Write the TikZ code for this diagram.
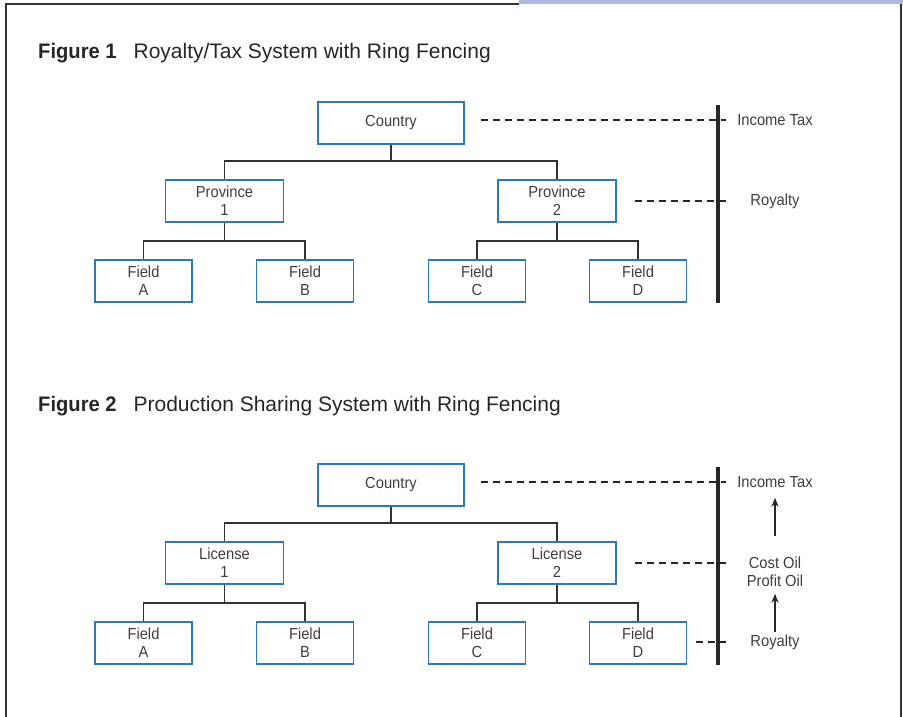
\documentclass[tikz,border=0pt]{standalone}
\usepackage{fontspec}
\setmainfont{Liberation Sans}[FakeStretch=0.92]
\newfontfamily\capfont{Liberation Sans}[BoldFeatures={FakeStretch=0.96}]
\usetikzlibrary{arrows.meta}
\definecolor{boxblue}{RGB}{48,118,188}
\definecolor{barblue}{RGB}{172,182,222}
\definecolor{inkgray}{RGB}{62,62,62}
\begin{document}
\begin{tikzpicture}[x=1pt,y=-1pt,
    unitbox/.style={draw=boxblue, line width=1.3pt, minimum height=42pt, inner sep=0pt,
      align=center, text=inkgray, font=\fontsize{16}{18.3}\selectfont},
    fieldbox/.style={unitbox, minimum width=97pt},
    link/.style={draw=inkgray!80!black, line width=1.8pt},
    tie/.style={draw=black!85, line width=1.6pt, dash pattern=on 7pt off 5pt},
    fence/.style={draw=black!85, line width=3.4pt},
    side/.style={inner sep=0pt, align=center, text=inkgray, font=\fontsize{16}{18.3}\selectfont},
    caption/.style={anchor=base west, inner sep=0pt, text=black!85, font=\capfont\fontsize{21}{24}\selectfont},
    rise/.style={draw=black!85, line width=1.4pt, -{Stealth[length=9pt,width=7pt]}}]
  \useasboundingbox (0,0) rectangle (903,717);
  % page frame
  \fill[barblue] (519,0) rectangle (903,4.5);
  \draw[black!80, line width=2pt] (6,717) -- (6,4.5) -- (519,4.5);
  \draw[black!80, line width=2pt] (901,4.5) -- (901,717);

  \node[caption] (cap1) at (38,59) {\textbf{Figure 1}\hspace{17pt}Royalty/Tax System with Ring Fencing};
  \node[caption] (cap2) at (38,411) {\textbf{Figure 2}\hspace{17pt}Production Sharing System with Ring Fencing};

  \foreach \fig/\dy/\lvl in {1/0/Province,2/362/License}{
    \begin{scope}[yshift=-\dy pt]
      \node[unitbox, minimum width=146pt] (country\fig) at (391,123) {Country};
      \node[unitbox, minimum width=118pt] (left\fig) at (224.5,201) {\lvl\\1};
      \node[unitbox, minimum width=118pt] (right\fig) at (557,201) {\lvl\\2};
      \node[fieldbox] (fa\fig) at (143.5,281) {Field\\A};
      \node[fieldbox] (fb\fig) at (305,281) {Field\\B};
      \node[fieldbox] (fc\fig) at (477,281) {Field\\C};
      \node[fieldbox] (fd\fig) at (638,281) {Field\\D};
      \draw[link] (country\fig.south) -- ++(0,16) coordinate (hub\fig);
      \draw[link] (left\fig.north) |- (hub\fig) -| (right\fig.north);
      \draw[link] (left\fig.south) -- ++(0,18) coordinate (lhub\fig);
      \draw[link] (fa\fig.north) |- (lhub\fig) -| (fb\fig.north);
      \draw[link] (right\fig.south) -- ++(0,18) coordinate (rhub\fig);
      \draw[link] (fc\fig.north) |- (rhub\fig) -| (fd\fig.north);
      % ring fence
      \coordinate (ftop\fig) at (718,105);
      \coordinate (fbot\fig) at (718,303);
      \draw[fence] (ftop\fig) -- (fbot\fig);
      \node[side] (itax\fig) at (775,120) {Income Tax};
      \draw[tie] ([xshift=16pt]country\fig.east |- itax\fig.west) -- ([xshift=8pt]ftop\fig |- itax\fig.west);
    \end{scope}
  }

  % figure 1 levels
  \node[side] (roy1) at (775,201) {Royalty};
  \draw[tie] ([xshift=18pt]right1.east |- roy1.west) -- ([xshift=8pt]ftop1 |- roy1.west);

  % figure 2 levels
  \node[side] (oil2) at (775,571.5) {Cost Oil\\Profit Oil};
  \node[side] (roy2) at (775,642) {Royalty};
  \draw[tie] ([xshift=18pt]right2.east |- 0,563) -- ([xshift=8pt]ftop2 |- 0,563);
  \draw[tie] ([xshift=9pt]fd2.east |- roy2.west) -- ([xshift=8pt]ftop2 |- roy2.west);
  \draw[rise, shorten <=2pt, shorten >=7pt] (roy2.north) -- (oil2.south);
  \draw[rise, shorten <=20pt, shorten >=10pt] (oil2.north) -- (itax2.south);
\end{tikzpicture}
\end{document}
